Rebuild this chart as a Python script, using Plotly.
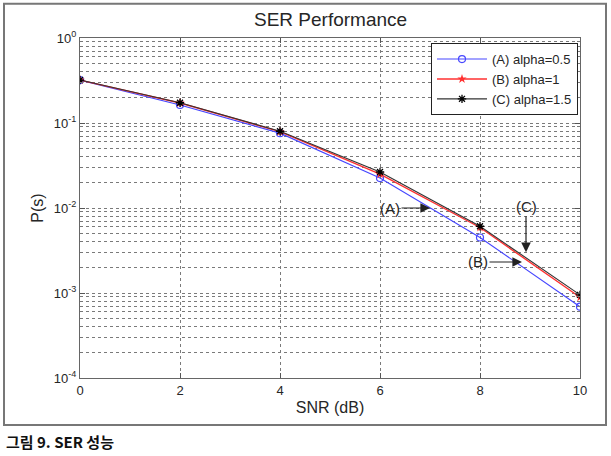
import plotly.graph_objects as go

snr = [0, 2, 4, 6, 8, 10]
ser_a = [0.32, 0.163, 0.076, 0.0225, 0.0045, 0.00069]
ser_b = [0.32, 0.172, 0.079, 0.025, 0.0059, 0.00089]
ser_c = [0.32, 0.173, 0.080, 0.0265, 0.0061, 0.00095]
names = ["(A) alpha=0.5", "(B) alpha=1", "(C) alpha=1.5"]
ytick_vals = [1e-4, 1e-3, 1e-2, 1e-1, 1]
ytick_text = ["10<sup>-4</sup>", "10<sup>-3</sup>", "10<sup>-2</sup>", "10<sup>-1</sup>", "10<sup>0</sup>"]
xtick_vals = [0, 2, 4, 6, 8, 10]

FONT = "Liberation Sans, Arial, sans-serif"
TXT = "#262626"

fig = go.Figure()
fig.add_trace(go.Scatter(x=snr, y=ser_a, name=names[0], mode="lines+markers",
                         line=dict(color="#4646ff", width=1.1),
                         marker=dict(symbol="circle-open", size=7, color="#4646ff", line=dict(width=1.2))))
fig.add_trace(go.Scatter(x=snr, y=ser_b, name=names[1], mode="lines+markers",
                         line=dict(color="#ff3030", width=1.4),
                         marker=dict(symbol="star", size=7, color="#ff3030")))
fig.add_trace(go.Scatter(x=snr, y=ser_c, name=names[2], mode="lines+markers",
                         line=dict(color="#333333", width=1.1),
                         marker=dict(symbol="asterisk-open", size=7, color="#000000", line=dict(width=1.3, color="#000000"))))

grid = dict(gridcolor="#7a7a7a", griddash="dot", gridwidth=1)

fig.update_xaxes(range=[0, 10], tickvals=xtick_vals, ticks="inside", ticklen=5, tickcolor="#555",
                 showline=True, linecolor="#666", linewidth=1, mirror="ticks",
                 showgrid=True, zeroline=False, **grid,
                 tickfont=dict(family=FONT, size=13, color=TXT),
                 title=dict(text="SNR (dB)", font=dict(family=FONT, size=16, color=TXT), standoff=5))
fig.update_yaxes(type="log", range=[-4, 0], tickmode="array", tickvals=ytick_vals, ticktext=ytick_text,
                 ticks="inside", ticklen=5, tickcolor="#555",
                 showline=True, linecolor="#666", linewidth=1, mirror="ticks",
                 showgrid=True, zeroline=False, **grid,
                 minor=dict(dtick="D1", showgrid=True, gridcolor="#7a7a7a", griddash="dot", gridwidth=1,
                            ticks="inside", ticklen=3, tickcolor="#777"),
                 tickfont=dict(family=FONT, size=13, color=TXT),
                 title=dict(text="P(s)", font=dict(family=FONT, size=16, color=TXT), standoff=6))

ann_font = dict(family=FONT, size=15, color=TXT)
fig.add_annotation(x=7.0, y=-2.0, xref="x", yref="y", text="(A)", showarrow=True, arrowhead=2,
                   arrowsize=1.6, arrowwidth=1.2, arrowcolor="#222", ax=-40, ay=0, font=ann_font)
fig.add_annotation(x=8.84, y=-2.635, xref="x", yref="y", text="(B)", showarrow=True, arrowhead=2,
                   arrowsize=1.6, arrowwidth=1.2, arrowcolor="#222", ax=-44, ay=0, font=ann_font)
fig.add_annotation(x=8.92, y=-2.52, xref="x", yref="y", text="(C)", showarrow=True, arrowhead=2,
                   arrowsize=1.6, arrowwidth=1.2, arrowcolor="#222", ax=0, ay=-46, font=ann_font)

# title
fig.add_annotation(x=0.5, y=1.055, xref="paper", yref="paper", text="SER Performance", showarrow=False,
                   font=dict(family=FONT, size=19, color=TXT), xanchor="center", yanchor="middle")
# caption
fig.add_annotation(x=-0.152, y=-0.188, xref="paper", yref="paper", text="<b>그림 9. SER 성능</b>",
                   showarrow=False, font=dict(family="Noto Sans CJK KR", size=15, color="#111"),
                   xanchor="left", yanchor="middle")
# outer frame
fig.add_shape(type="rect", xref="paper", yref="paper", x0=-0.152, x1=1.052, y0=-0.138, y1=1.101,
              line=dict(color="#777", width=2), fillcolor="rgba(0,0,0,0)", layer="below")

fig.update_layout(width=611, height=456, margin=dict(l=80, r=31, t=38, b=78),
                  paper_bgcolor="white", plot_bgcolor="white",
                  font=dict(family=FONT),
                  legend=dict(x=0.996, y=0.985, xanchor="right", yanchor="top",
                              bgcolor="white", bordercolor="#222", borderwidth=1,
                              font=dict(family=FONT, size=13, color=TXT),
                              itemwidth=50, tracegroupgap=0))

fig.write_html("out.html")
